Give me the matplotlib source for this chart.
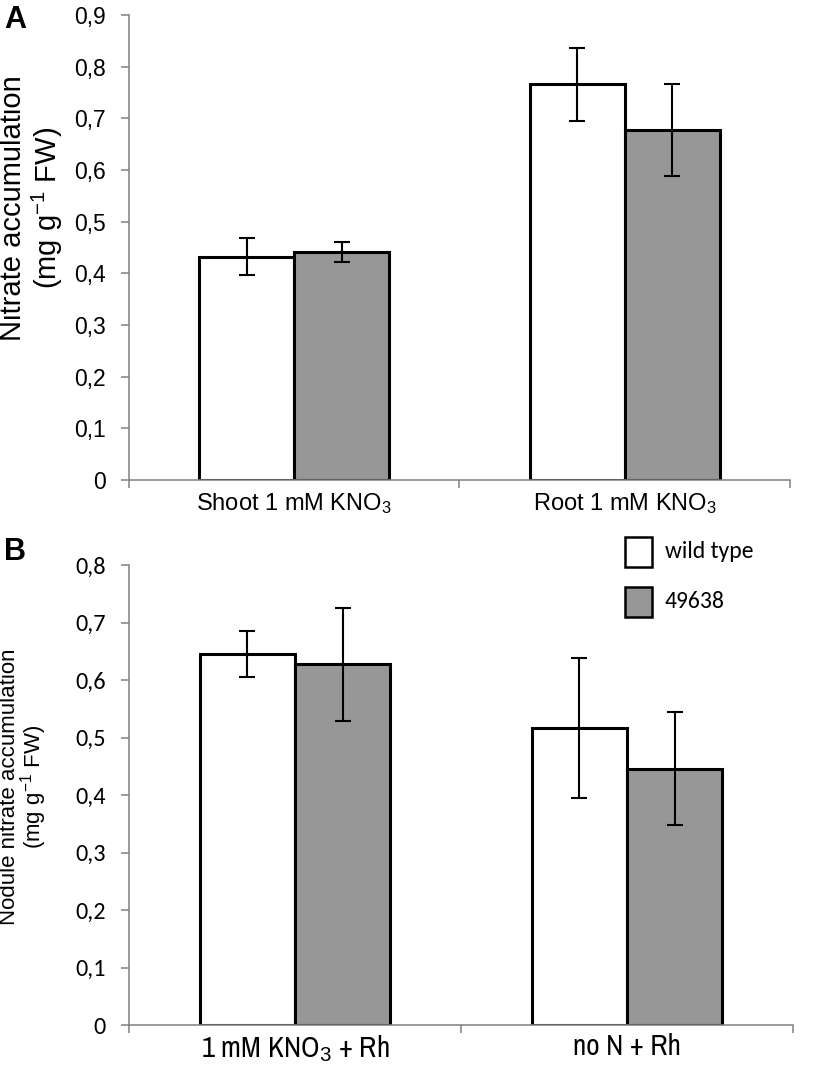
import matplotlib
matplotlib.use("Agg")
from matplotlib import pyplot as plt
import numpy as np

plt.rcParams["mathtext.fontset"] = "custom"
plt.rcParams["mathtext.rm"] = "Liberation Sans"
plt.rcParams["mathtext.it"] = "Liberation Sans:italic"
plt.rcParams["mathtext.bf"] = "Liberation Sans:bold"

# panel A data
cats_a = ["Shoot 1 mM KNO$_3$", "Root 1 mM KNO$_3$"]
wt_a = [0.432, 0.766]
wt_a_err = [0.036, 0.071]
mut_a = [0.441, 0.677]
mut_a_err = [0.020, 0.089]

# panel B data
cats_b = ["1 mM KNO$_3$ + Rh", "no N + Rh"]
wt_b = [0.645, 0.516]
wt_b_err = [0.040, 0.122]
mut_b = [0.627, 0.446]
mut_b_err = [0.099, 0.098]

series = ["wild type", "49638"]
ticks_a = [0, 0.1, 0.2, 0.3, 0.4, 0.5, 0.6, 0.7, 0.8, 0.9]
ticks_b = [0, 0.1, 0.2, 0.3, 0.4, 0.5, 0.6, 0.7, 0.8]

GREY = "#979797"
SPINE = "#808080"
W = 0.287


def fmt(v):
    return "0" if v == 0 else ("%.1f" % v).replace(".", ",")


def draw(ax, cats, wt, wt_err, mut, mut_err, ticks, yfont, yfs, xfont, xfs, xpad):
    x = np.arange(len(cats)) + 0.5
    ax.bar(x - W / 2, wt, W, color="white", edgecolor="black", linewidth=2.2, zorder=2)
    ax.bar(x + W / 2, mut, W, color=GREY, edgecolor="black", linewidth=2.2, zorder=2)
    ax.errorbar(x - W / 2, wt, yerr=wt_err, fmt="none", ecolor="black",
                elinewidth=1.5, capsize=5.5, capthick=1.5, zorder=3)
    ax.errorbar(x + W / 2, mut, yerr=mut_err, fmt="none", ecolor="black",
                elinewidth=1.5, capsize=5.5, capthick=1.5, zorder=3)
    ax.set_xlim(0, len(cats))
    ax.set_ylim(0, ticks[-1])
    ax.set_yticks(ticks)
    ax.set_yticklabels([fmt(t) for t in ticks], fontsize=yfs, family=yfont)
    ax.set_xticks([0, 1, 2])
    ax.set_xticklabels([])
    ax.set_xticks(x, minor=True)
    ax.set_xticklabels(cats, minor=True, fontsize=xfs, family=xfont)
    ax.tick_params(axis="x", which="minor", length=0, pad=xpad)
    ax.tick_params(axis="x", which="major", length=5.5, color=SPINE, width=1.1)
    ax.tick_params(axis="y", length=5.5, color=SPINE, width=1.1, pad=11)
    for s in ["top", "right"]:
        ax.spines[s].set_visible(False)
    for s in ["left", "bottom"]:
        ax.spines[s].set_color(SPINE)
        ax.spines[s].set_linewidth(1.1)


fig = plt.figure(figsize=(8.29, 10.67), dpi=100)
H = 1067.0

axA = fig.add_axes([129 / 829, 1 - 480 / H, 661 / 829, 465 / H])
draw(axA, cats_a, wt_a, wt_a_err, mut_a, mut_a_err, ticks_a,
     "Liberation Sans", 16.5, "Liberation Sans", 17, 8)
fig.text(32 / 829, 1 - 208 / H, "Nitrate accumulation\n(mg g$^{-1}$ FW)",
         rotation=90, ha="center", va="center", multialignment="center",
         fontsize=21, family="Liberation Sans", linespacing=1.1)
fig.text(4 / 829, 1 - 20 / H, "A", fontsize=22, fontweight="bold",
         family="Liberation Sans", ha="left", va="center")

axB = fig.add_axes([129 / 829, 1 - 1025 / H, 664 / 829, 460 / H])
draw(axB, cats_b, wt_b, wt_b_err, mut_b, mut_b_err, ticks_b,
     "Carlito", 17.5, "Archivo Narrow", 21, 6)
fig.text(24 / 829, 1 - 787 / H, "Nodule nitrate accumulation\n(mg g$^{-1}$ FW)",
         rotation=90, ha="center", va="center", multialignment="center",
         fontsize=16, family="Liberation Sans", linespacing=0.95)
fig.text(4 / 829, 1 - 552 / H, "B", fontsize=22, fontweight="bold",
         family="Liberation Sans", ha="left", va="center")

# legend boxes
for i, (name, col) in enumerate(zip(series, ["white", GREY])):
    yc = 552 + i * 50
    fig.patches.append(plt.Rectangle((625 / 829, 1 - (yc + 15) / H), 27 / 829, 30 / H,
                                     transform=fig.transFigure, facecolor=col,
                                     edgecolor="black", linewidth=1.8))
    fig.text(665 / 829, 1 - yc / H, name, fontsize=17, family="Carlito",
             va="center", ha="left")

fig.savefig("out.png", dpi=100)
